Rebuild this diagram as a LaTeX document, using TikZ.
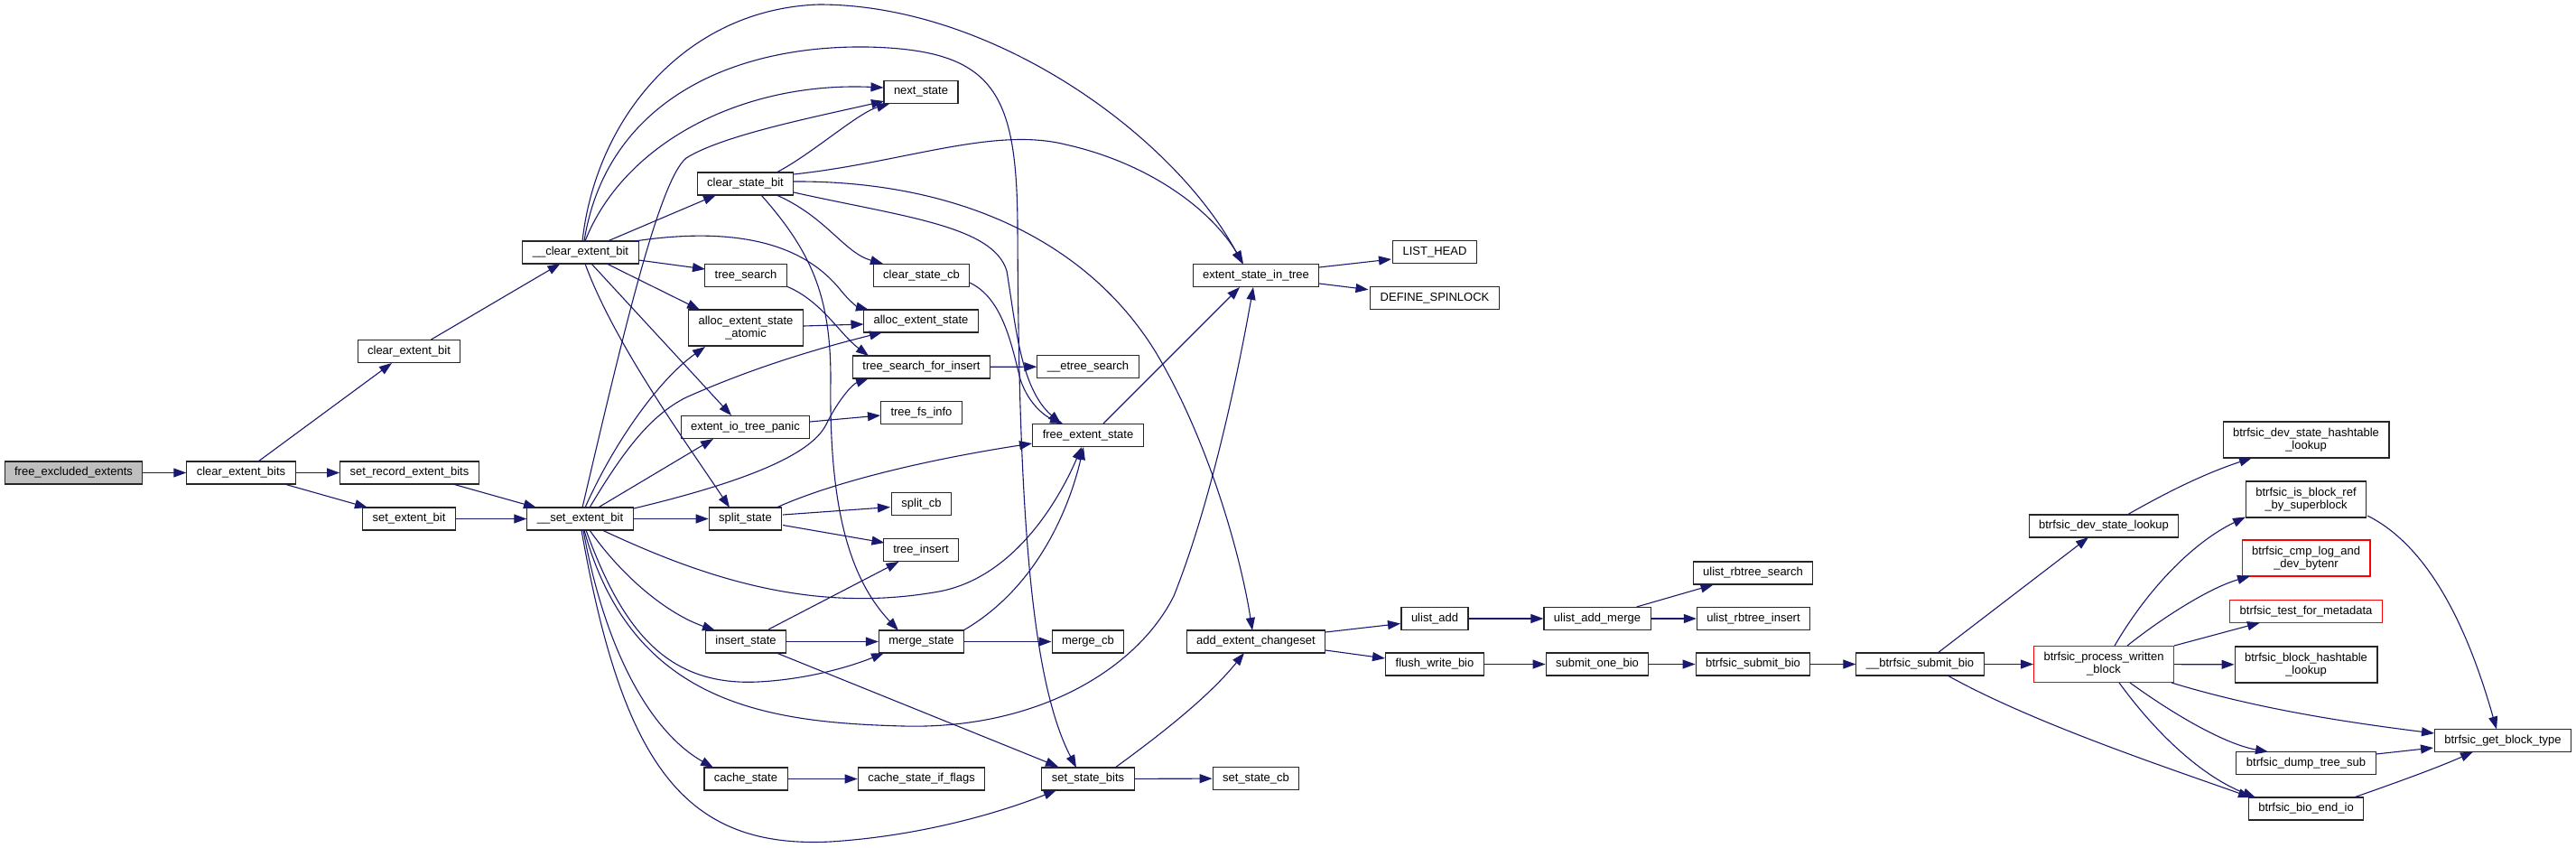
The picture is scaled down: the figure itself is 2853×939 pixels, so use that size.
\documentclass[tikz,border=0pt]{standalone}
\usepackage{fontspec}
\setmainfont{Liberation Sans}
\usetikzlibrary{arrows.meta, calc}
\definecolor{edgeblue}{RGB}{25,25,112}

\begin{document}
\begin{tikzpicture}[
  x=1pt, y=-1pt,
  font=\fontsize{13}{14}\selectfont,
  fn/.style={rectangle, draw=black!85, line width=1.1pt, fill=white,
             inner xsep=11pt, inner ysep=0pt, minimum height=25pt, align=center},
  fn2/.style={fn, minimum height=40pt},
  root/.style={fn, fill=black!25},
  trunc/.style={draw=red},
  call/.style={-{Triangle[length=14pt,width=10pt]}, draw=edgeblue, line width=1.1pt},
]
\path[use as bounding box, fill=white] (0,0) rectangle (2853,939);

% callers on the left
\node[root] (fee)   at (81.5,523.5) {free\_excluded\_extents};
\node[fn]   (ceb)   at (267,523.5)  {clear\_extent\_bits};
\node[fn]   (cebit) at (453,389)    {clear\_extent\_bit};
\node[fn]   (sreb)  at (453.5,523.5) {set\_record\_extent\_bits};
\node[fn]   (seb)   at (453,574.5)  {set\_extent\_bit};
\node[fn]   (uceb)  at (643,279.5)  {\_\_clear\_extent\_bit};
\node[fn]   (useb)  at (642.5,574.5) {\_\_set\_extent\_bit};

% extent state helpers
\node[fn]  (nexts)   at (1020,102)    {next\_state};
\node[fn]  (csb)     at (825.5,203.5) {clear\_state\_bit};
\node[fn]  (tsearch) at (826,305)     {tree\_search};
\node[fn2] (aesa)    at (826,363)     {alloc\_extent\_state\\\_atomic};
\node[fn]  (cscb)    at (1020.5,305)  {clear\_state\_cb};
\node[fn]  (aes)     at (1020,355.5)  {alloc\_extent\_state};
\node[fn]  (tsfi)    at (1020.5,406.5) {tree\_search\_for\_insert};
\node[fn]  (etree)   at (1205,406)    {\_\_etree\_search};
\node[fn]  (eitp)    at (825.5,473)   {extent\_io\_tree\_panic};
\node[fn]  (tfi)     at (1020.5,457)  {tree\_fs\_info};
\node[fn]  (fes)     at (1205,482)    {free\_extent\_state};
\node[fn]  (sstate)  at (825.5,574.5) {split\_state};
\node[fn]  (scb)     at (1020.5,558)  {split\_cb};
\node[fn]  (tins)    at (1020,609)    {tree\_insert};
\node[fn]  (istate)  at (826,710.5)   {insert\_state};
\node[fn]  (mstate)  at (1020.5,710.5) {merge\_state};
\node[fn]  (mcb)     at (1205,710.5)  {merge\_cb};
\node[fn]  (cstate)  at (826,862.5)   {cache\_state};
\node[fn]  (csif)    at (1020.5,862.5) {cache\_state\_if\_flags};
\node[fn]  (ssb)     at (1205,862.5)  {set\_state\_bits};
\node[fn]  (esit)    at (1391,305)    {extent\_state\_in\_tree};
\node[fn]  (lhead)   at (1589,279)    {LIST\_HEAD};
\node[fn]  (dspin)   at (1589,330)    {DEFINE\_SPINLOCK};
\node[fn]  (aec)     at (1391,710.5)  {add\_extent\_changeset};
\node[fn]  (sscb)    at (1391,862)    {set\_state\_cb};

% changeset / bio chain
\node[fn] (uadd) at (1589,685)    {ulist\_add};
\node[fn] (uam)  at (1769,685)    {ulist\_add\_merge};
\node[fn] (urs)  at (1941.5,634.5) {ulist\_rbtree\_search};
\node[fn] (uri)  at (1942,685)    {ulist\_rbtree\_insert};
\node[fn] (fwb)  at (1589,735.5)  {flush\_write\_bio};
\node[fn] (sob)  at (1769,735.5)  {submit\_one\_bio};
\node[fn] (bsb)  at (1941.5,735.5) {btrfsic\_submit\_bio};
\node[fn] (ubsb) at (2126.5,735.5) {\_\_btrfsic\_submit\_bio};

% integrity checker
\node[fn2, trunc] (bpwb)  at (2330,735.5) {btrfsic\_process\_written\\\_block};
\node[fn]         (bdsl)  at (2330,582.5) {btrfsic\_dev\_state\_lookup};
\node[fn2]        (bdshl) at (2554,487)   {btrfsic\_dev\_state\_hashtable\\\_lookup};
\node[fn2]        (bibr)  at (2554,553)   {btrfsic\_is\_block\_ref\\\_by\_superblock};
\node[fn2, trunc] (bclad) at (2554,618)   {btrfsic\_cmp\_log\_and\\\_dev\_bytenr};
\node[fn, trunc]  (btfm)  at (2554,677)   {btrfsic\_test\_for\_metadata};
\node[fn2]        (bbhl)  at (2554,736)   {btrfsic\_block\_hashtable\\\_lookup};
\node[fn]         (bgbt)  at (2772,820)   {btrfsic\_get\_block\_type};
\node[fn]         (bdts)  at (2554,845)   {btrfsic\_dump\_tree\_sub};
\node[fn]         (bbei)  at (2554,895.5) {btrfsic\_bio\_end\_io};

% left chain
\draw[call] (fee) -- (ceb);
\draw[call] ($(ceb)+(19,-12.5)$) -- ($(cebit)+(-19,13)$);
\draw[call] (ceb) -- (sreb);
\draw[call] ($(ceb)+(48,12.5)$) -- ($(seb)+(-46,-12.5)$);
\draw[call] ($(cebit)+(24.5,-13)$) -- ($(uceb)+(-22.5,12.5)$);
\draw[call] ($(sreb)+(48,12.5)$) -- ($(useb)+(-48.5,-12.5)$);
\draw[call] (seb) -- (useb);

% __clear_extent_bit
\draw[call] ($(uceb)+(2,-12.5)$) .. controls (660,130) and (760,10) .. (907,5)
  .. controls (1100,5) and (1300,150) .. ($(esit)+(-15,-13)$);
\draw[call] ($(uceb)+(4,-12.5)$) .. controls (670,120) and (800,50) .. (960,52)
  .. controls (1100,55) and (1126,100) .. (1127,250)
  .. controls (1128,550) and (1140,750) .. ($(ssb)+(-13,-12.5)$);
\draw[call] ($(uceb)+(5,-12.5)$) .. controls (690,160) and (820,90) .. ($(nexts)+(-41.5,-5)$);
\draw[call] ($(uceb)+(30,-12.5)$) -- ($(csb)+(-32.5,12.5)$);
\draw[call] ($(uceb)+(60,-12.5)$) .. controls (850,245) and (905,290) .. (930,320)
  .. controls (940,333) and (950,340) .. ($(aes)+(-58,-12.5)$);
\draw[call] ($(uceb)+(64,8.5)$) -- ($(tsearch)+(-45,-7)$);
\draw[call] ($(uceb)+(29,12.5)$) -- ($(aesa)+(-51,-20)$);
\draw[call] ($(uceb)+(12,12.5)$) -- ($(eitp)+(-15.5,-13)$);
\draw[call] ($(uceb)+(5,12.5)$) .. controls (680,380) and (760,490) .. ($(sstate)+(-17.5,-12.5)$);

% __set_extent_bit
\draw[call] ($(useb)+(2.5,-12.5)$) .. controls (690,370) and (730,200) .. (760,175)
  .. controls (800,150) and (900,130) .. ($(nexts)+(-41,10)$);
\draw[call] ($(useb)+(5.5,-12.5)$) .. controls (680,490) and (730,420) .. ($(aesa)+(-45,21)$);
\draw[call] ($(useb)+(10.5,-12.5)$) .. controls (690,500) and (720,460) .. (760,440)
  .. controls (850,400) and (930,380) .. ($(aes)+(-43,12.5)$);
\draw[call] ($(useb)+(20,-12.5)$) -- ($(eitp)+(-35.5,13)$);
\draw[call] ($(useb)+(59.5,-11.5)$) .. controls (840,530) and (900,500) .. (915,470)
  .. controls (930,440) and (945,425) .. ($(tsfi)+(-58.5,12.5)$);
\draw[call] (useb) -- (sstate);
\draw[call] ($(useb)+(24.5,12.5)$) .. controls (780,640) and (900,680) .. (1040,655)
  .. controls (1120,640) and (1170,560) .. ($(fes)+(-7,13)$);
\draw[call] ($(useb)+(10.5,12.5)$) .. controls (690,640) and (740,680) .. ($(istate)+(-34,-12.5)$);
\draw[call] ($(useb)+(6.5,12.5)$) .. controls (690,700) and (740,760) .. (840,755)
  .. controls (900,752) and (950,735) .. ($(mstate)+(-41.5,12.5)$);
\draw[call] ($(useb)+(4.5,12.5)$) .. controls (700,780) and (850,800) .. (1000,804)
  .. controls (1150,808) and (1260,740) .. (1300,660)
  .. controls (1340,560) and (1370,420) .. ($(esit)+(-3,13)$);
\draw[call] ($(useb)+(3.5,12.5)$) .. controls (670,720) and (720,810) .. ($(cstate)+(-36,-12.5)$);
\draw[call] ($(useb)+(1.5,12.5)$) .. controls (690,850) and (760,940) .. (920,932)
  .. controls (1030,925) and (1120,895) .. ($(ssb)+(-35,12.5)$);

% clear_state_bit
\draw[call] ($(csb)+(34.5,-12.5)$) .. controls (900,170) and (950,125) .. ($(nexts)+(-35,13)$);
\draw[call] ($(csb)+(53.5,-10.5)$) .. controls (1000,180) and (1100,140) .. (1180,160)
  .. controls (1270,180) and (1340,230) .. ($(esit)+(-14,-13)$);
\draw[call] ($(csb)+(53.5,-2.5)$) .. controls (1050,200) and (1200,260) .. (1280,390)
  .. controls (1340,490) and (1375,620) .. ($(aec)+(-4,-12.5)$);
\draw[call] ($(csb)+(53.5,9.5)$) .. controls (1000,240) and (1100,250) .. (1115,300)
  .. controls (1125,360) and (1130,430) .. ($(fes)+(-30,-13)$);
\draw[call] ($(csb)+(34.5,12.5)$) .. controls (915,240) and (935,280) .. ($(cscb)+(-42.5,-13)$);
\draw[call] ($(csb)+(17.5,12.5)$) .. controls (900,280) and (920,330) .. (920,420)
  .. controls (918,560) and (940,640) .. ($(mstate)+(-25.5,-12.5)$);

% middle column
\draw[call] ($(cscb)+(53.5,8)$) .. controls (1110,330) and (1120,380) .. (1130,420)
  .. controls (1140,450) and (1160,462) .. ($(fes)+(-28,-13)$);
\draw[call] ($(tsearch)+(45,12)$) .. controls (910,333) and (930,370) .. ($(tsfi)+(-58.5,-12.5)$);
\draw[call] (tsfi) -- (etree);
\draw[call] ($(aesa)+(64,-2)$) -- ($(aes)+(-63.5,3.5)$);
\draw[call] ($(eitp)+(71.5,-6)$) -- ($(tfi)+(-45.5,3)$);
\draw[call] ($(sstate)+(34.5,-12.5)$) .. controls (920,535) and (1020,510) .. ($(fes)+(-62,9)$);
\draw[call] ($(sstate)+(41.5,-4.5)$) -- ($(scb)+(-34.5,3.5)$);
\draw[call] ($(sstate)+(41.5,7)$) -- ($(tins)+(-40.5,-8)$);
\draw[call] ($(istate)+(25,-13.5)$) -- ($(tins)+(-24.5,13)$);
\draw[call] (istate) -- (mstate);
\draw[call] ($(istate)+(34,12.5)$) -- ($(ssb)+(-33,-13.5)$);
\draw[call] ($(mstate)+(46.5,-12.5)$) .. controls (1150,650) and (1185,560) .. ($(fes)+(-5,13)$);
\draw[call] (mstate) -- (mcb);
\draw[call] (cstate) -- (csif);
\draw[call] (ssb) -- (sscb);
\draw[call] ($(ssb)+(30,-12.5)$) .. controls (1290,810) and (1340,770) .. ($(aec)+(-13,12.5)$);
\draw[call] ($(fes)+(17,-13)$) -- ($(esit)+(-18,13)$);

% right part
\draw[call] ($(esit)+(70,-9)$) -- ($(lhead)+(-48,8)$);
\draw[call] ($(esit)+(70,9)$) -- ($(dspin)+(-73.5,-9.3)$);
\draw[call] ($(aec)+(77,-10.5)$) -- ($(uadd)+(-38,5.5)$);
\draw[call] ($(aec)+(77,9.5)$) -- ($(fwb)+(-55,-6.5)$);
\draw[call] (uadd) -- (uam);
\draw[call] ($(uam)+(43.6,-13)$) -- ($(urs)+(-44,13)$);
\draw[call] (uam) -- (uri);
\draw[call] (fwb) -- (sob);
\draw[call] (sob) -- (bsb);
\draw[call] (bsb) -- (ubsb);
\draw[call] ($(ubsb)+(19.5,-12.5)$) -- ($(bdsl)+(-17,12.5)$);
\draw[call] (ubsb) -- (bpwb);
\draw[call] ($(ubsb)+(30.5,12.5)$) .. controls (2250,800) and (2400,850) .. ($(bbei)+(-61,-12.5)$);
\draw[call] ($(bdsl)+(26,-12.5)$) .. controls (2400,545) and (2440,525) .. ($(bdshl)+(-60,20)$);
\draw[call] ($(bpwb)+(12,-20.5)$) .. controls (2380,650) and (2430,600) .. ($(bibr)+(-67,19.5)$);
\draw[call] ($(bpwb)+(26,-20.5)$) .. controls (2400,680) and (2450,650) .. ($(bclad)+(-62,20)$);
\draw[call] ($(bpwb)+(78,-20.5)$) -- ($(btfm)+(-51,12.5)$);
\draw[call] (bpwb) -- (bbhl);
\draw[call] ($(bpwb)+(75,20.5)$) .. controls (2500,785) and (2600,800) .. ($(bgbt)+(-76,-8)$);
\draw[call] ($(bpwb)+(29,20.5)$) .. controls (2420,800) and (2470,825) .. ($(bdts)+(-42,-12.5)$);
\draw[call] ($(bpwb)+(17,20.5)$) .. controls (2390,815) and (2440,860) .. ($(bbei)+(-56,-12.5)$);
\draw[call] ($(bibr)+(68,18)$) .. controls (2700,610) and (2740,720) .. ($(bgbt)+(-7,-12.5)$);
\draw[call] ($(bdts)+(77.5,-10)$) -- ($(bgbt)+(-77,8)$);
\draw[call] ($(bbei)+(53,-12.5)$) .. controls (2650,868) and (2700,850) .. ($(bgbt)+(-33,12.5)$);
\end{tikzpicture}
\end{document}
